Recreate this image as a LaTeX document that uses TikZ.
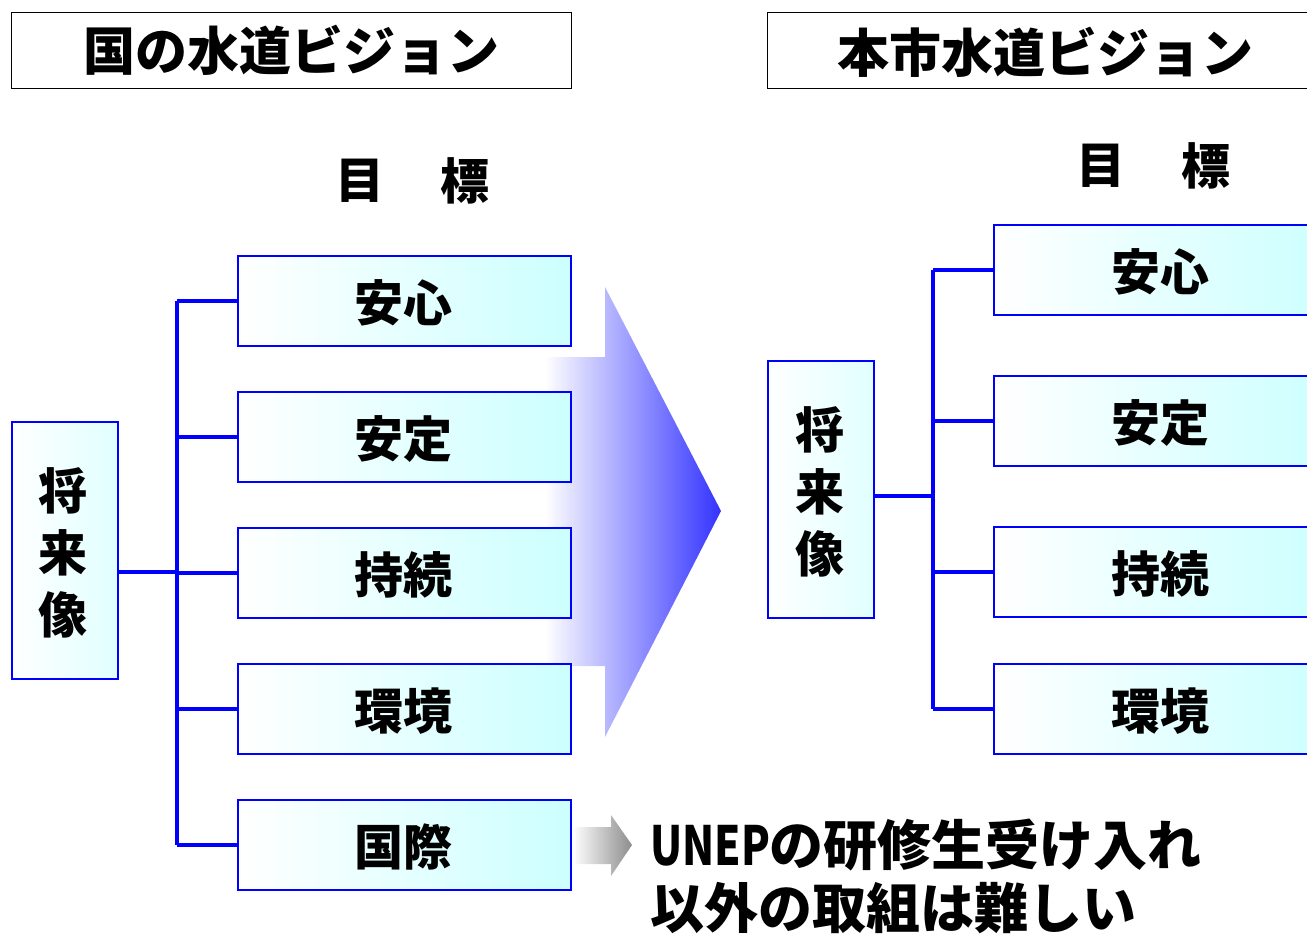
\documentclass[tikz,border=0pt]{standalone}
\usepackage{fontspec}
\setmainfont{Noto Sans CJK JP}
\newfontfamily\jpk{Noto Sans CJK JP Black}
\definecolor{bblue}{RGB}{0,0,255}
\definecolor{lcyan}{RGB}{204,255,255}
\definecolor{arrblue}{RGB}{51,51,255}
\begin{document}
\begin{tikzpicture}[x=1pt,y=-1pt,
  goalbox/.style={draw=bblue,line width=2pt,left color=white,right color=lcyan,minimum width=333pt,minimum height=90pt,inner sep=0pt,anchor=north west},
  visbox/.style={draw=bblue,line width=2pt,left color=white,right color=lcyan!60,minimum width=106pt,minimum height=257pt,inner sep=0pt,anchor=north west},
  titlebox/.style={draw=black,line width=1.2pt,fill=white,minimum height=76pt,inner sep=0pt,anchor=north west},
  gtxt/.style={font=\jpk\fontsize{49}{49}\selectfont},
  ttxt/.style={font=\jpk\fontsize{52}{52}\selectfont},
  bus/.style={draw=bblue,line width=4.5pt}]
\useasboundingbox (0,0) rectangle (1307,934);
\clip (0,0) rectangle (1307,934);
% titles
\node[titlebox,minimum width=560pt] (tl) at (11,12) {};
\node[ttxt] (tlt) at (tl.center) {国の水道ビジョン};
\node[titlebox,minimum width=560pt] (tr) at (767,12) {};
\node[ttxt] (trt) at (1045,52) {本市水道ビジョン};
% 目標
\node[gtxt] (ml1) at (360,181) {目};
\node[gtxt] (ml2) at (465,181) {標};
\node[gtxt] (mr1) at (1101,166) {目};
\node[gtxt] (mr2) at (1206,166) {標};
% big arrow
\path[left color=white,right color=arrblue] (545,357) -- (605,357) -- (605,287) -- (721,511) -- (605,737) -- (605,666) -- (545,666) -- cycle;
% gray arrow
\path[left color=white,right color=black!45] (573,827) -- (611,827) -- (611,815) -- (632,845) -- (611,876) -- (611,864) -- (573,864) -- cycle;
% left vision
\node[visbox] (lv) at (11,421) {};
\node[gtxt,align=center] (lvt) at (63,553) {将\\[13pt]来\\[13pt]像};
\node[goalbox] (l1) at (237,255) {};
\node[goalbox] (l2) at (237,391) {};
\node[goalbox] (l3) at (237,527) {};
\node[goalbox] (l4) at (237,663) {};
\node[goalbox] (l5) at (237,799) {};
\node[gtxt] at (403,303) {安心};
\node[gtxt] at (403,439) {安定};
\node[gtxt] at (403,575) {持続};
\node[gtxt] at (403,711) {環境};
\node[gtxt] at (403,847) {国際};
\coordinate (lb) at (177,572);
\coordinate (lx) at (177,0);
\draw[bus] (lv.east |- lb) -- (lb);
\draw[bus] (lx |- l1.west) -- (lx |- l5.west);
\foreach \n in {l1,l2,l3,l4,l5} \draw[bus] (lx |- \n.west) -- (\n.west);
% right vision
\node[visbox] (rv) at (767,360) {};
\node[gtxt,align=center] (rvt) at (820,492) {将\\[13pt]来\\[13pt]像};
\node[goalbox] (r1) at (993,224) {};
\node[goalbox] (r2) at (993,375) {};
\node[goalbox] (r3) at (993,526) {};
\node[goalbox] (r4) at (993,663) {};
\node[gtxt] at (1160,272) {安心};
\node[gtxt] at (1160,423) {安定};
\node[gtxt] at (1160,574) {持続};
\node[gtxt] at (1160,711) {環境};
\coordinate (rb) at (933,496);
\coordinate (rx) at (933,0);
\draw[bus] (rv.east |- rb) -- (rb);
\draw[bus] (rx |- r1.west) -- (rx |- r4.west);
\foreach \n in {r1,r2,r3,r4} \draw[bus] (rx |- \n.west) -- (\n.west);
% note
\node[anchor=west,font=\jpk\fontsize{54}{63}\selectfont,align=left,inner sep=0pt] (note) at (650,876) {\scalebox{0.78}[1]{UNEP}の研修生受け入れ\\以外の取組は難しい};
\end{tikzpicture}
\end{document}
